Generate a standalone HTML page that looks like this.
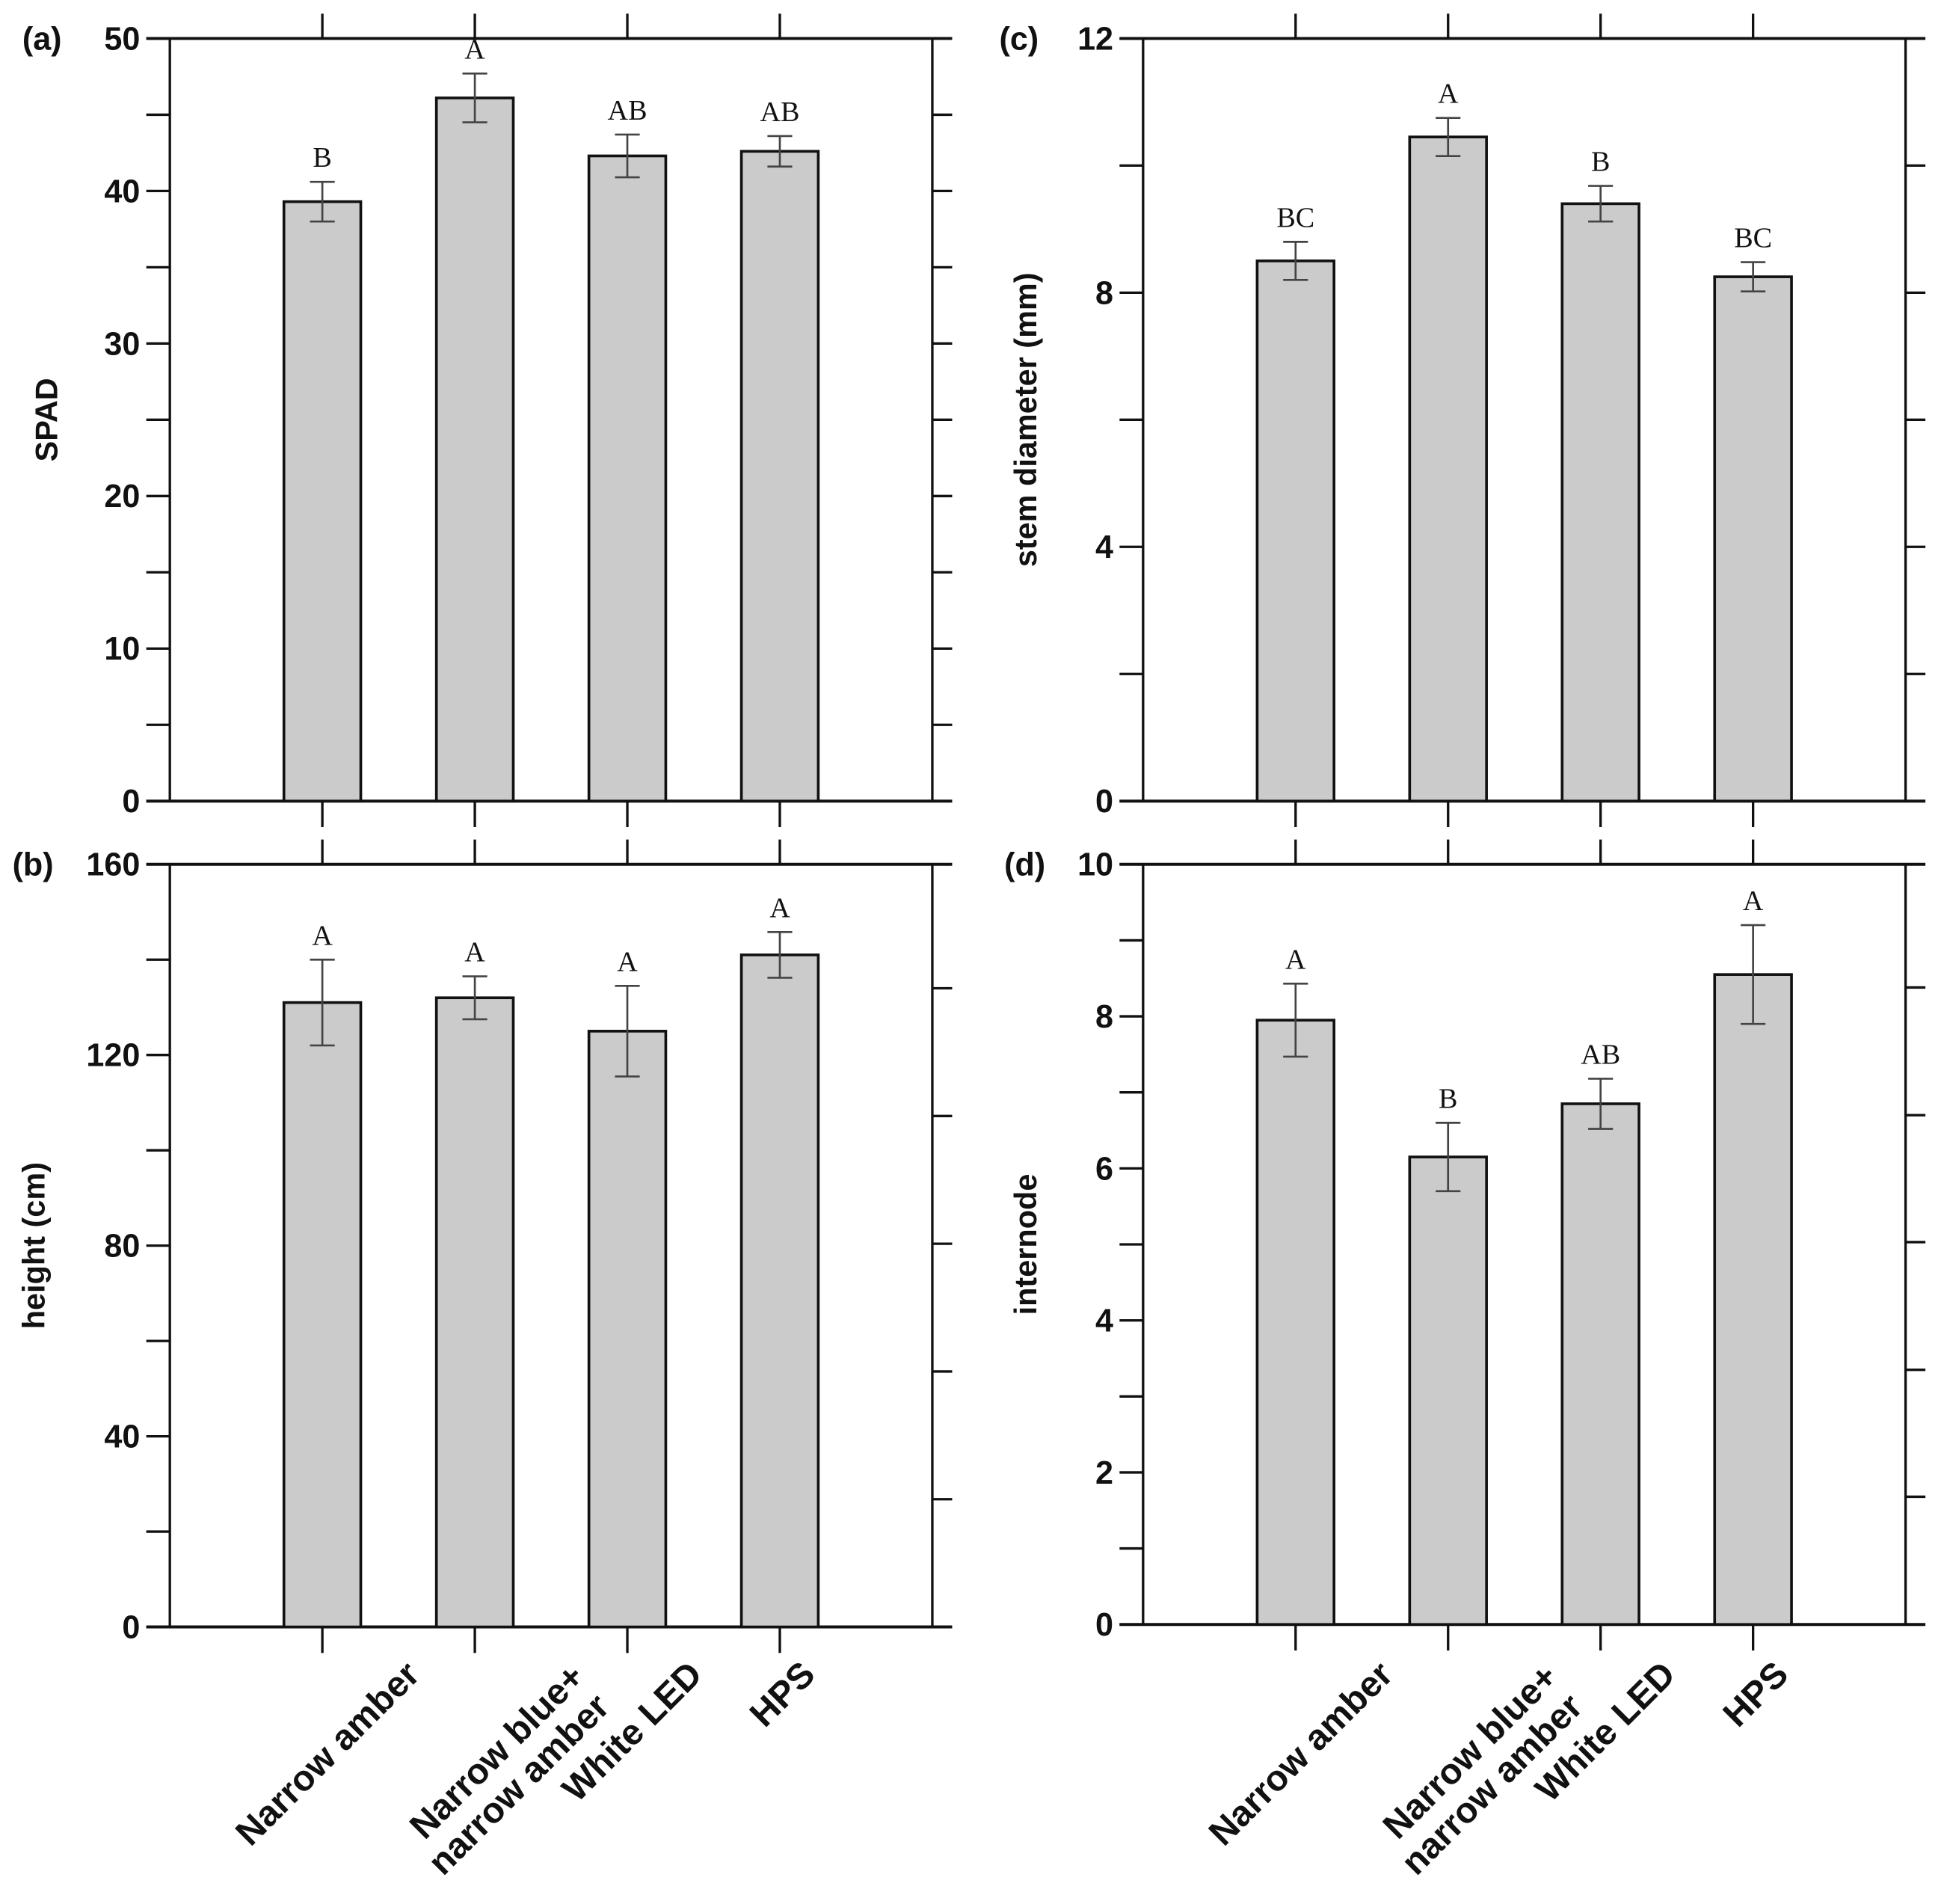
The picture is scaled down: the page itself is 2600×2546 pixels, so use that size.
<!DOCTYPE html>
<html><head><meta charset="utf-8">
<style>
html,body{margin:0;padding:0;background:#fff;}
svg{display:block;}
.tk{font-family:"Liberation Sans",Arial,sans-serif;font-weight:bold;font-size:26px;fill:#111;}
.lt{font-family:"Liberation Serif",serif;font-size:23px;fill:#111;}
.yt{font-family:"Liberation Sans",Arial,sans-serif;font-weight:bold;font-size:25px;fill:#111;}
.xl{font-family:"Liberation Sans",Arial,sans-serif;font-weight:bold;font-size:29px;fill:#111;}
</style></head>
<body>
<svg id="fig" width="2600" height="2546" viewBox="0 0 1568 1535.4" xmlns="http://www.w3.org/2000/svg"></svg>
<script>
const categories = ["Narrow amber","Narrow blue+ narrow amber","White LED","HPS"];
const spadValues = [39.3, 46.1, 42.3, 42.6];
const spadErrors = [1.3, 1.6, 1.4, 1.0];
const spadLetters = ["B","A","AB","AB"];
const heightValues = [131, 132, 125, 141];
const heightErrors = [9, 4.5, 9.5, 4.8];
const heightLetters = ["A","A","A","A"];
const stemValues = [8.5, 10.45, 9.4, 8.25];
const stemErrors = [0.3, 0.3, 0.28, 0.23];
const stemLetters = ["BC","A","B","BC"];
const internodeValues = [7.95, 6.15, 6.85, 8.55];
const internodeErrors = [0.48, 0.45, 0.33, 0.65];
const internodeLetters = ["A","B","AB","A"];
const spadTicks = [0,10,20,30,40,50];
const heightTicks = [0,40,80,120,160];
const stemTicks = [0,4,8,12];
const internodeTicks = [0,2,4,6,8,10];

const NS = "http://www.w3.org/2000/svg";
const svg = document.getElementById("fig");
function mk(tag, attrs, parent){
  const e = document.createElementNS(NS, tag);
  for (const k in attrs) e.setAttribute(k, attrs[k]);
  (parent||svg).appendChild(e);
  return e;
}

function panel(o){
  const g = mk("g", {});
  
  
  const L=o.x0, R=o.x1, T=o.y0, B=o.y1;
  const y = v => B - (v - o.min)/(o.max - o.min)*(B - T);
  const step = (R - L)/5;
  const cx = i => L + step*(i+1);
  mk("line",{x1:L-19,y1:T,x2:R+16,y2:T,stroke:"#111","stroke-width":2.4},g);
  mk("line",{x1:L-19,y1:B,x2:R+16,y2:B,stroke:"#111","stroke-width":2.4},g);
  mk("line",{x1:L,y1:T,x2:L,y2:B,stroke:"#111","stroke-width":2},g);
  mk("line",{x1:R,y1:T,x2:R,y2:B,stroke:"#111","stroke-width":2},g);
  for (let v=o.min; v<=o.max+1e-9; v+=o.minor){
    const yy=y(v);
    mk("line",{x1:L-19,y1:yy,x2:L,y2:yy,stroke:"#111","stroke-width":2},g);
  }
  o.ticks.forEach(v=>{
    const t=mk("text",{x:L-24,y:y(v)+9,"text-anchor":"end",class:"tk"},g);
    
    
    t.textContent=v;
  });
  o.rticks.forEach(v=>{
    const yy=y(v);
    mk("line",{x1:R,y1:yy,x2:R+16,y2:yy,stroke:"#111","stroke-width":2},g);
  });
  categories.forEach((c,i)=>{
    const x=cx(i);
    mk("line",{x1:x,y1:T-20,x2:x,y2:T,stroke:"#111","stroke-width":2},g);
    mk("line",{x1:x,y1:B,x2:x,y2:B+21,stroke:"#111","stroke-width":2},g);
  });
  o.values.forEach((v,i)=>{
    const x=cx(i);
    const b=mk("rect",{x:x-31,y:y(v),width:62,height:B-y(v),fill:"#cbcbcb",stroke:"#111","stroke-width":2.2},g);
    
    
    const hi=y(v+o.errors[i]), lo=y(v-o.errors[i]);
    const eb=mk("path",{d:`M${x},${hi}V${lo}M${x-10},${hi}H${x+10}M${x-10},${lo}H${x+10}`,stroke:"#444","stroke-width":1.6,fill:"none"},g);
    
    
    const lt=mk("text",{x:x,y:hi-12,"text-anchor":"middle",class:"lt"},g);
    
    
    lt.textContent=o.letters[i];
  });
  const pl=mk("text",{x:o.lx,y:T+9,class:"tk","font-size":"21"},g);
  
  
  pl.textContent=o.label;
  const yt=mk("text",{x:o.tx,y:(T+B)/2,"text-anchor":"middle",class:"yt",transform:`rotate(-90 ${o.tx} ${(T+B)/2})`},g);
  
  
  yt.textContent=o.title;
  if (o.xlabels){
    const lab=(txt,ex,ey)=>{
      const t=mk("text",{x:ex,y:ey,"text-anchor":"end",class:"xl",transform:`rotate(-45 ${ex} ${ey})`},g);
      
      
      t.textContent=txt;
    };
    lab("Narrow amber",cx(0)+80,1352);
    lab("Narrow blue+",cx(1)+90,1354);
    lab("narrow amber",cx(1)+110,1378);
    lab("White LED",cx(2)+62,1352);
    lab("HPS",cx(3)+30,1352);
  }
}

panel({name:"panel-a-spad",label:"(a)",lx:18,x0:137,x1:752,y0:31,y1:646,min:0,max:50,minor:5,ticks:spadTicks,rticks:[5,10,15,20,25,30,35,40,45],values:spadValues,errors:spadErrors,letters:spadLetters,title:"SPAD",tx:46});
panel({name:"panel-b-height",label:"(b)",lx:10,x0:137,x1:752,y0:697,y1:1312,min:0,max:160,minor:20,ticks:heightTicks,rticks:[26.8,53.6,80.4,107.2,134],values:heightValues,errors:heightErrors,letters:heightLetters,title:"height (cm)",tx:36,xlabels:true});
panel({name:"panel-c-stem",label:"(c)",lx:806,x0:922,x1:1537,y0:31,y1:646,min:0,max:12,minor:2,ticks:stemTicks,rticks:[2,4,6,8,10],values:stemValues,errors:stemErrors,letters:stemLetters,title:"stem diameter (mm)",tx:836});
panel({name:"panel-d-internode",label:"(d)",lx:810,x0:922,x1:1537,y0:697,y1:1310,min:0,max:10,minor:1,ticks:internodeTicks,rticks:[1.68,3.35,5.03,6.7,8.38],values:internodeValues,errors:internodeErrors,letters:internodeLetters,title:"internode",tx:836,xlabels:true});
</script>
</body></html>
